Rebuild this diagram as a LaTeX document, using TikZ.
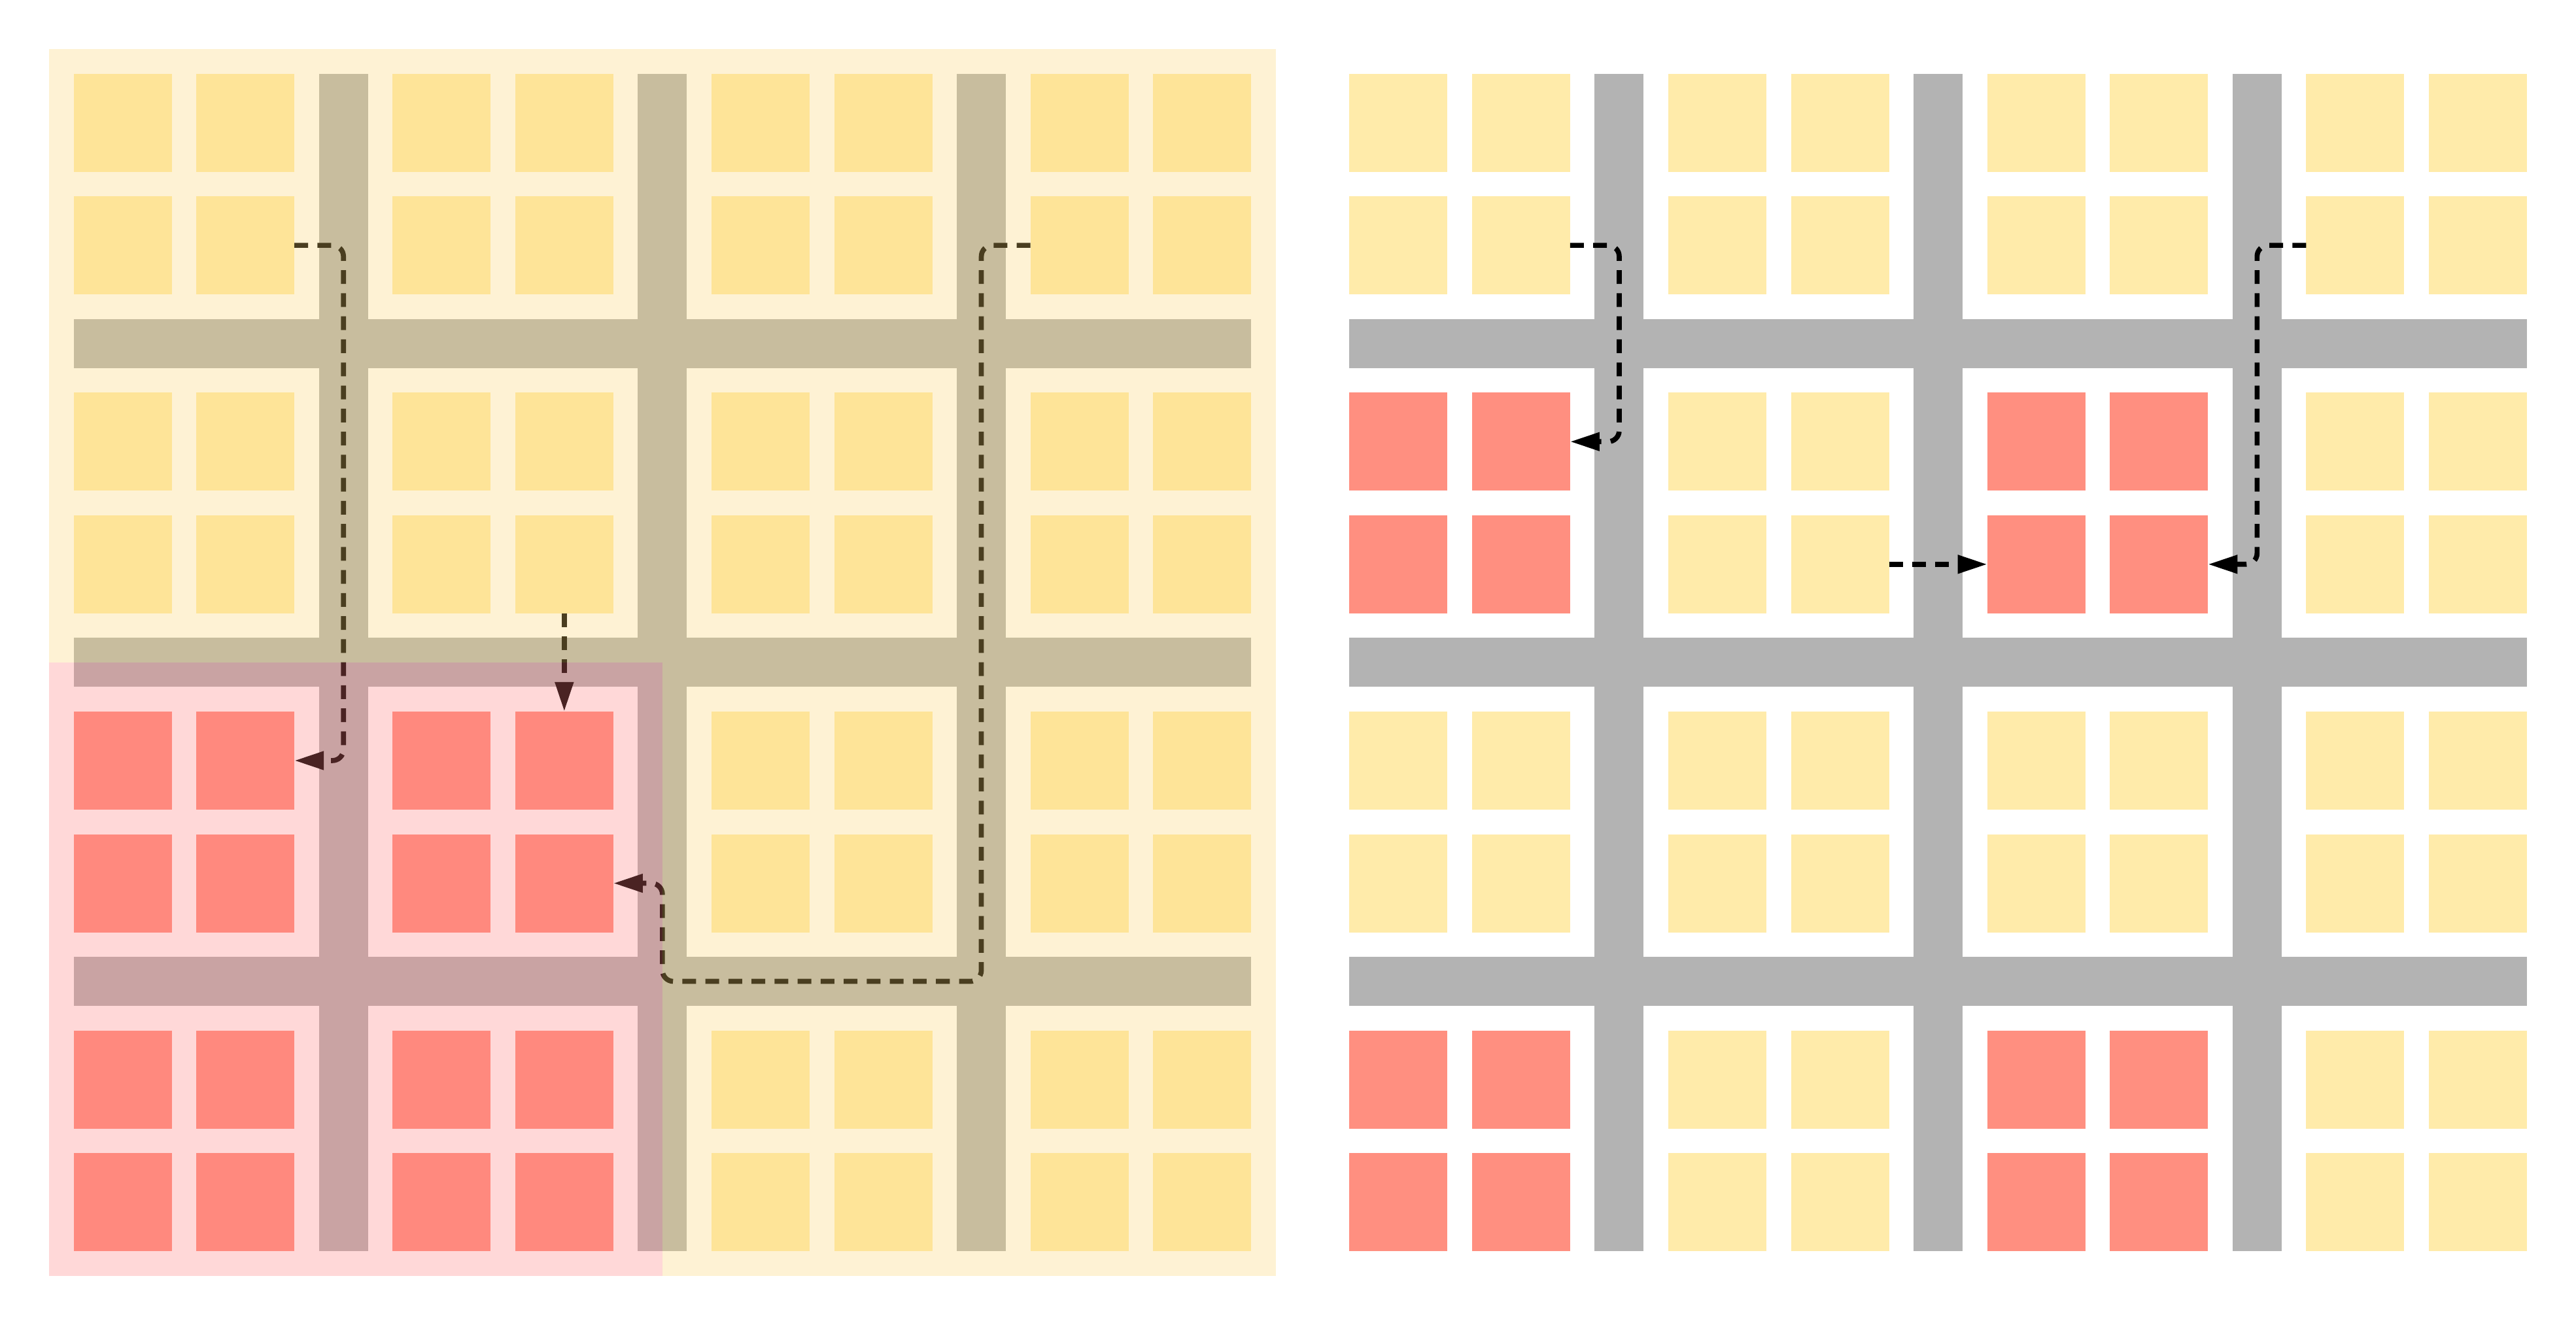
\documentclass[tikz,border=0pt]{standalone}
\usetikzlibrary{arrows.meta}
\definecolor{sqyel}{RGB}{255,235,170}
\definecolor{sqred}{RGB}{255,143,128}
\definecolor{bargray}{RGB}{179,179,179}
\definecolor{ovyel}{RGB}{252,214,109}
\definecolor{ovpink}{RGB}{255,124,124}
\tikzset{
  cell/.style={draw=none, minimum size=4cm, inner sep=0pt, outer sep=0pt, anchor=north west},
  flow/.style={draw=black, line width=0.205cm, dash pattern=on 0.56cm off 0.38cm,
    rounded corners=0.45cm, -{Triangle[length=1.2cm,width=0.72cm]}},
}
\begin{document}
\begin{tikzpicture}
\useasboundingbox (0,0) rectangle (105,-54);
\fill[white] (0,0) rectangle (105,-54);
% bars
\foreach \ox in {0,52} {
  \foreach \m in {0,1,2} {
    \fill[bargray] ({\ox+13+13*\m},-3) rectangle ({\ox+15+13*\m},-51);
    \fill[bargray] ({\ox+3},{-13-13*\m}) rectangle ({\ox+51},{-15-13*\m});
  }
}
% cells
\foreach \gx in {0,...,3} \foreach \kx in {0,1} \foreach \gy in {0,...,3} \foreach \ky in {0,1} {
  \pgfmathtruncatemacro\i{2*\gx+\kx}
  \pgfmathtruncatemacro\j{2*\gy+\ky}
  \pgfmathtruncatemacro\lred{and(\gx<2,\gy>1)}
  \pgfmathtruncatemacro\rred{and(mod(\gx,2)==0,mod(\gy,2)==1)}
  \ifnum\lred=1 \def\lcol{sqred}\else\def\lcol{sqyel}\fi
  \ifnum\rred=1 \def\rcol{sqred}\else\def\rcol{sqyel}\fi
  \node[cell, fill=\lcol] (L-\i-\j) at ({3+13*\gx+5*\kx},{-(3+13*\gy+5*\ky)}) {};
  \node[cell, fill=\rcol] (R-\i-\j) at ({55+13*\gx+5*\kx},{-(3+13*\gy+5*\ky)}) {};
}
% left arrows
\coordinate (LX) at (27,-40);
\draw[flow] (L-1-1.east) -- ++(2,0) |- (L-1-4.east);
\draw[flow] (L-3-3.south) -- (L-3-4.north);
\draw[flow] (L-6-1.west) -- ++(-2,0) |- (LX) |- (L-3-5.east);
% right arrows
\draw[flow] (R-1-1.east) -- ++(2,0) |- (R-1-2.east);
\draw[flow] (R-3-3.east) -- (R-4-3.west);
\draw[flow] (R-6-1.west) -- ++(-2,0) |- (R-5-3.east);
% overlays on left panel
\fill[ovyel, opacity=0.294] (2,-2) -- (52,-2) -- (52,-52) -- (27,-52) -- (27,-27) -- (2,-27) -- cycle;
\fill[ovpink, opacity=0.29] (2,-27) rectangle (27,-52);
\end{tikzpicture}
\end{document}
